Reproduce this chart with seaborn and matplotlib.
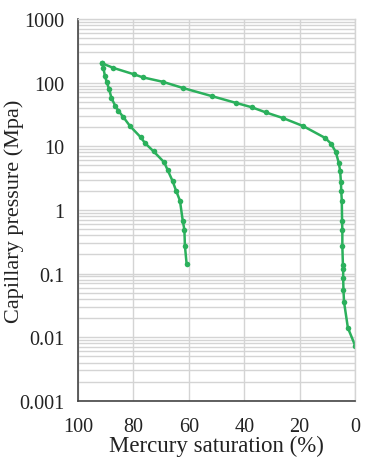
import matplotlib
matplotlib.use("Agg")
import matplotlib.pyplot as plt
import matplotlib.ticker as mticker
import seaborn as sns
import numpy as np

# Intrusion curve (mercury injection)
intr_sat = [0, 2.6, 4.0, 4.2, 4.3, 4.3, 4.4, 4.6, 4.6, 4.7, 4.8, 5.0, 5.1, 5.4, 5.9,
            7.0, 8.7, 10.8, 18.7, 25.9, 32.2, 37.3, 43.0, 51.5, 62.0, 69.4, 76.6, 79.8,
            87.2, 91.2]
intr_p = [0.0074, 0.014, 0.036, 0.056, 0.085, 0.116, 0.137, 0.27, 0.49, 0.68, 1.39, 2.0,
          2.7, 4.1, 5.5, 8.2, 11, 13.5, 20.7, 27.6, 34, 41, 48, 61, 82, 103, 121, 135,
          170, 200]

# Extrusion curve (mercury withdrawal)
extr_sat = [91.2, 90.8, 90.3, 89.7, 88.8, 87.9, 86.6, 85.4, 83.6, 81.2, 77.4, 75.8,
            72.7, 68.9, 67.6, 65.8, 64.6, 63.2, 62.2, 61.6, 61.4, 60.8]
extr_p = [200, 168, 129, 104, 80, 57, 43.6, 36, 28.6, 20.7, 13.9, 11.2, 8.3, 5.6, 4.2,
          2.8, 2.0, 1.4, 0.68, 0.49, 0.27, 0.143]

x_ticks = [100, 80, 60, 40, 20, 0]
y_ticks = [0.001, 0.01, 0.1, 1, 10, 100, 1000]
y_tick_labels = ["0.001", "0.01", "0.1", "1", "10", "100", "1000"]

sns.set_style("white")
plt.rcParams["font.family"] = ["Liberation Serif", "DejaVu Serif"]

fig = plt.figure(figsize=(3.73, 4.64), dpi=100)
ax = fig.add_axes([0.209, 0.134, 0.743, 0.823])

green = "#2BB05C"
sns.lineplot(x=intr_sat, y=intr_p, sort=False, ax=ax, color=green, linewidth=1.8,
             marker="o", markersize=4, markeredgewidth=0, estimator=None)
sns.lineplot(x=extr_sat, y=extr_p, sort=False, ax=ax, color=green, linewidth=1.8,
             marker="o", markersize=4, markeredgewidth=0, estimator=None)

ax.set_yscale("log")
ax.set_ylim(0.001, 1000)
ax.set_xlim(100, 0)
ax.set_xticks(x_ticks)
ax.set_xticklabels([str(t) for t in x_ticks])
ax.set_yticks(y_ticks)
ax.set_yticklabels(y_tick_labels)
ax.yaxis.set_minor_locator(mticker.LogLocator(base=10, subs=np.arange(2, 10)))
ax.yaxis.set_minor_formatter(mticker.NullFormatter())

ax.grid(True, which="major", axis="both", color="#d4d4d4", linewidth=1.0)
ax.grid(True, which="minor", axis="y", color="#d4d4d4", linewidth=1.0)
ax.set_axisbelow(True)

for side in ["top", "right"]:
    ax.spines[side].set_color("#d4d4d4")
    ax.spines[side].set_linewidth(1.0)
for side in ["left", "bottom"]:
    ax.spines[side].set_color("#444444")
    ax.spines[side].set_linewidth(1.2)

ax.tick_params(axis="both", which="both", length=0, labelsize=14.5, colors="#222222")
ax.tick_params(axis="y", pad=10)
ax.tick_params(axis="x", pad=12)

ax.set_xlabel("Mercury saturation (%)", fontsize=16.5, color="#222222", labelpad=-1)
ax.set_ylabel("Capillary pressure (Mpa)", fontsize=16, color="#222222")
ax.yaxis.set_label_coords(-0.195, 0.5)

fig.savefig("out.png", dpi=100)
